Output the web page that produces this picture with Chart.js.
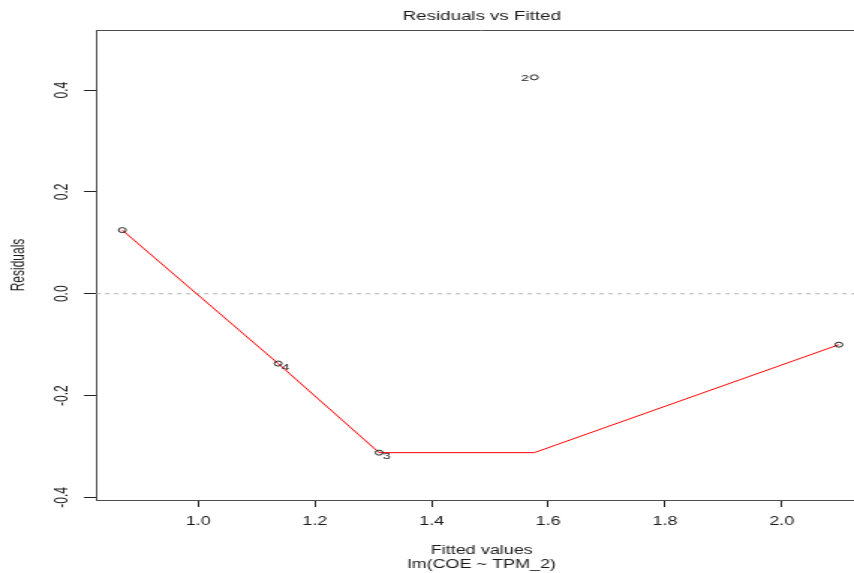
<!DOCTYPE html>
<html>
<head>
<meta charset="utf-8">
<script src="https://cdn.jsdelivr.net/npm/chart.js@4.4.1/dist/chart.umd.min.js"></script>
<style>
  html, body { margin: 0; padding: 0; background: #fff; overflow: hidden; }
  /* the reference picture is stretched sideways and cut off at the right,
     so the chart is stretched too and runs past the window edge */
  #wrap { width: 584px; height: 573px; transform: scaleX(1.4982); transform-origin: 0 0; }
</style>
</head>
<body>
<div id="wrap"><canvas id="chart01"></canvas></div>
<script>
// residuals of lm(COE ~ TPM_2)
var fitted = [0.870, 1.576, 1.310, 1.137, 2.098];
var residuals = [0.125, 0.425, -0.312, -0.137, -0.100];
var pointIds = ['', '2', '3', '4', ''];

// smoother (red line)
var smoothX = [0.870, 1.137, 1.310, 1.576, 2.098];
var smoothY = [0.125, -0.137, -0.312, -0.312, -0.100];

var xTicks = [1.0, 1.2, 1.4, 1.6, 1.8, 2.0];
var yTicks = [-0.4, -0.2, 0.0, 0.2, 0.4];
var xRange = [0.825, 2.147];
var yRange = [-0.405, 0.518];

var font = 'Liberation Sans, Arial, sans-serif';

var toXY = function(xs, ys) {
  return xs.map(function(x, i) { return { x: x, y: ys[i] }; });
};

// box top edge, caption and point ids
var extras = {
  id: 'extras',
  afterDatasetsDraw: function(chart) {
    var ctx = chart.ctx;
    var a = chart.chartArea;
    var xs = chart.scales.x, ys = chart.scales.y;
    ctx.save();
    ctx.strokeStyle = '#4d4d4d';
    ctx.lineWidth = 1;
    ctx.beginPath();
    ctx.moveTo(a.left, a.top + 0.5);
    ctx.lineTo(a.right, a.top + 0.5);
    ctx.stroke();

    ctx.fillStyle = '#1a1a1a';
    ctx.font = '12.5px ' + font;
    ctx.textAlign = 'center';
    ctx.textBaseline = 'middle';
    ctx.fillText('Residuals vs Fitted', (a.left + a.right) / 2, 17);

    var mid = (Math.min.apply(null, fitted) + Math.max.apply(null, fitted)) / 2;
    ctx.font = '9.5px ' + font;
    fitted.forEach(function(f, i) {
      if (!pointIds[i]) return;
      var px = xs.getPixelForValue(f);
      var py = ys.getPixelForValue(residuals[i]);
      if (f > mid) {
        ctx.textAlign = 'right';
        ctx.fillText(pointIds[i], px - 3.5, py + 1);
      } else {
        ctx.textAlign = 'left';
        ctx.fillText(pointIds[i], px + 2.5, py + 4);
      }
    });
    ctx.restore();
  }
};

var ctx = document.getElementById('chart01');
var chart = new Chart(ctx, {
  type: 'scatter',
  data: {
    datasets: [{
      data: toXY(fitted, residuals),
      pointStyle: 'circle',
      pointRadius: 2.5,
      borderWidth: 1,
      borderColor: '#222',
      backgroundColor: 'rgba(0,0,0,0)'
    }, {
      data: toXY(smoothX, smoothY),
      showLine: true,
      borderColor: '#ff0000',
      borderWidth: 1,
      pointRadius: 0,
      tension: 0
    }, {
      data: toXY(xRange, [0, 0]),
      showLine: true,
      borderColor: '#b3b3b3',
      borderWidth: 1,
      borderDash: [3, 3],
      pointRadius: 0
    }]
  },
  options: {
    responsive: true,
    maintainAspectRatio: false,
    animation: false,
    events: [],
    layout: { padding: { top: 30, right: 0, bottom: 0, left: 0 } },
    plugins: {
      legend: { display: false },
      tooltip: { enabled: false },
      title: { display: false }
    },
    scales: {
      x: {
        type: 'linear',
        min: xRange[0],
        max: xRange[1],
        afterBuildTicks: function(scale) {
          scale.ticks = xTicks.map(function(v) { return { value: v }; });
        },
        afterFit: function(scale) {
          scale.height = 73;
          scale.paddingRight = 0;
        },
        ticks: {
          color: '#1a1a1a',
          font: { family: font, size: 12 },
          padding: 7,
          maxRotation: 0,
          autoSkip: false,
          callback: function(v) { return v.toFixed(1); }
        },
        grid: { drawOnChartArea: false, drawTicks: true, tickLength: 7, tickColor: '#222' },
        border: { display: true, color: '#4d4d4d', width: 1 },
        title: {
          display: true,
          text: ['Fitted values', 'lm(COE ~ TPM_2)'],
          color: '#1a1a1a',
          font: { family: font, size: 12, lineHeight: 1.15 },
          padding: { top: 0, bottom: 1.3 }
        }
      },
      y: {
        type: 'linear',
        min: yRange[0],
        max: yRange[1],
        afterBuildTicks: function(scale) {
          scale.ticks = yTicks.map(function(v) { return { value: v }; });
        },
        afterFit: function(scale) { scale.width = 64.1; },
        ticks: {
          color: '#1a1a1a',
          font: { family: font, size: 12 },
          padding: 4.4,
          minRotation: 90,
          maxRotation: 90,
          crossAlign: 'center',
          autoSkip: false,
          callback: function(v) { return v.toFixed(1); }
        },
        grid: { drawOnChartArea: false, drawTicks: true, tickLength: 8, tickColor: '#222' },
        border: { display: true, color: '#4d4d4d', width: 1 },
        title: {
          display: true,
          text: 'Residuals',
          color: '#1a1a1a',
          font: { family: font, size: 12 },
          padding: { top: 5, bottom: 0 }
        }
      }
    }
  },
  plugins: [extras]
});
</script>
</body>
</html>
